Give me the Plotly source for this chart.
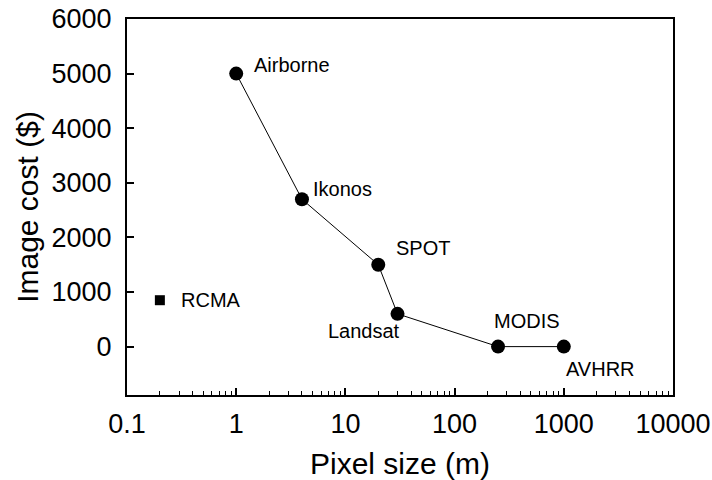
import math
import plotly.graph_objects as go

# Data
sensors = ["Airborne", "Ikonos", "SPOT", "Landsat", "MODIS", "AVHRR"]
pixel_size = [1, 4, 20, 30, 250, 1000]
image_cost = [5000, 2700, 1500, 600, 0, 0]

rcma_name = ["RCMA"]
rcma_pixel = [0.2]
rcma_cost = [850]

y_ticks = [0, 1000, 2000, 3000, 4000, 5000, 6000]
x_ticks = [0.1, 1, 10, 100, 1000, 10000]
x_ticklabels = ["0.1", "1", "10", "100", "1000", "10000"]

# label offsets (pixels): xanchor, xshift, yshift
label_style = {
    "Airborne": ("left", 16, 9),
    "Ikonos": ("left", 9, 10),
    "SPOT": ("left", 16, 17),
    "Landsat": ("right", 4, -17),
    "MODIS": ("center", 29, 26),
    "AVHRR": ("left", 0, -22),
    "RCMA": ("left", 19, 0),
}

FONT = "Liberation Sans, Arial, sans-serif"

fig = go.Figure()
fig.add_trace(go.Scatter(
    x=pixel_size, y=image_cost, mode="lines+markers",
    line=dict(color="black", width=1),
    marker=dict(symbol="circle", size=14, color="black"),
    showlegend=False, hoverinfo="skip",
))
fig.add_trace(go.Scatter(
    x=rcma_pixel, y=rcma_cost, mode="markers",
    marker=dict(symbol="square", size=10, color="black"),
    showlegend=False, hoverinfo="skip",
))

for name, xv, yv in list(zip(sensors, pixel_size, image_cost)) + list(zip(rcma_name, rcma_pixel, rcma_cost)):
    xa, xs, ys = label_style[name]
    fig.add_annotation(
        x=math.log10(xv), y=yv, xref="x", yref="y", text=name, showarrow=False,
        xanchor=xa, yanchor="middle", xshift=xs, yshift=ys,
        font=dict(family=FONT, size=20, color="black"),
    )

fig.update_layout(
    template="none",
    width=712, height=480,
    margin=dict(l=127, r=39, t=19, b=85, autoexpand=False),
    paper_bgcolor="white", plot_bgcolor="white",
    font=dict(family=FONT, color="black"),
)
fig.update_xaxes(
    type="log", range=[-1, 4], automargin=False,
    tickvals=x_ticks, ticktext=x_ticklabels,
    ticks="inside", ticklen=7, tickwidth=1.5, tickcolor="black",
    ticklabelstandoff=4,
    minor=dict(ticks="inside", ticklen=4, tickwidth=1, tickcolor="black", dtick="D1", showgrid=False),
    showline=True, linewidth=2, linecolor="black", mirror=True,
    showgrid=False, zeroline=False,
    tickfont=dict(family=FONT, size=27, color="black"),
    title=dict(text="Pixel size (m)", font=dict(family=FONT, size=30, color="black"), standoff=15),
)
fig.update_yaxes(
    range=[-886, 6000], automargin=False,
    tickvals=y_ticks,
    ticks="inside", ticklen=7, tickwidth=1.5, tickcolor="black",
    ticklabelstandoff=8,
    showline=True, linewidth=2, linecolor="black", mirror=True,
    showgrid=False, zeroline=False,
    tickfont=dict(family=FONT, size=27, color="black"),
    title=dict(text="Image cost ($)", font=dict(family=FONT, size=30, color="black"), standoff=4),
)

fig.write_html("out.html")
